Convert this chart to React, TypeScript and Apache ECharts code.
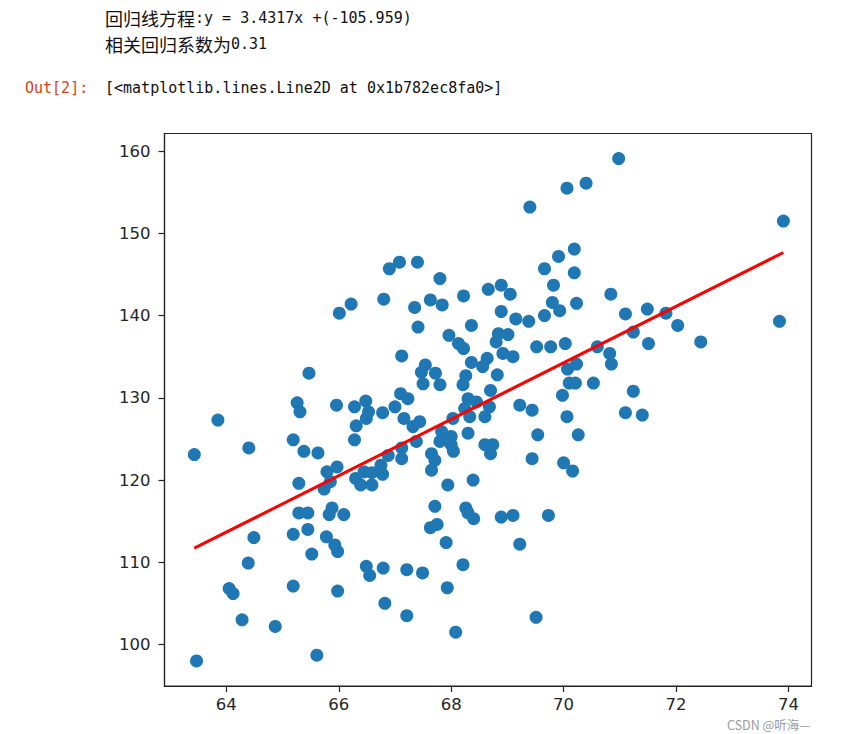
import React, { useEffect, useRef } from "react";
import * as echarts from "echarts";

// Heights (x) and weights (y)
const heights = [
  70.40, 70.06, 69.40, 70.19, 69.91, 69.66, 70.19, 69.82, 70.23, 69.80,
  69.93, 69.66, 69.38, 69.15, 68.89, 69.05, 68.89, 68.66, 68.22, 67.80,
  67.40, 67.08, 66.90, 66.80, 67.35, 67.63, 67.84, 68.36, 66.22, 66.01,
  70.98, 73.91, 70.84, 71.10, 71.49, 71.82, 73.84, 72.03, 65.47, 63.85,
  63.43, 64.40, 65.26, 65.31, 65.96, 66.28, 66.48, 66.53, 66.49, 66.31,
  66.28, 65.19, 65.38, 65.63, 65.79, 65.97, 65.29, 65.74, 65.85, 66.30,
  66.45, 66.59, 66.59, 66.39, 66.75, 67.41, 67.96, 68.13, 68.22, 68.84,
  69.01, 68.80, 69.52, 69.77, 70.03, 67.12, 68.92, 69.10, 68.36, 68.64,
  68.56, 67.54, 67.47, 67.72, 67.50, 67.80, 68.26, 68.21, 68.82, 68.70,
  70.07, 70.23, 70.10, 70.21, 69.98, 70.53, 67.10, 67.23, 67.00, 66.78,
  67.16, 67.44, 67.32, 68.30, 68.45, 68.24, 68.33, 68.03, 68.68, 68.60,
  69.22, 69.44, 70.06, 68.30, 67.83, 67.80, 68.00, 68.00, 68.04, 67.38,
  67.12, 67.12, 66.88, 66.78, 67.65, 67.71, 67.65, 68.60, 68.74, 68.70,
  69.54, 70.26, 69.44, 70.00, 70.16, 67.94, 68.39, 71.24, 71.51, 72.44,
  70.60, 70.82, 70.85, 71.24, 71.10, 71.40, 65.29, 65.45, 65.88, 65.83,
  66.09, 64.49, 65.19, 65.45, 65.78, 65.93, 65.98, 65.52, 64.39, 66.49,
  66.55, 64.05, 64.12, 65.19, 65.98, 64.28, 64.87, 65.61, 63.47, 67.71,
  68.26, 68.30, 68.40, 68.89, 69.10, 69.73, 67.63, 67.75, 67.91, 69.22,
  68.21, 66.79, 67.21, 67.49, 67.93, 66.82, 67.21, 69.51, 68.08,
];

const weights = [
  156.1, 155.5, 153.2, 148.1, 147.2, 145.7, 145.2, 143.7, 141.5, 141.6,
  140.6, 140.0, 139.3, 139.6, 140.5, 142.6, 143.7, 143.2, 142.4, 144.5,
  146.5, 146.5, 145.7, 142.0, 141.0, 141.9, 141.3, 138.8, 141.4, 140.3,
  159.1, 151.5, 142.6, 140.2, 140.8, 140.3, 139.3, 138.8, 133.0, 127.3,
  123.1, 123.9, 129.4, 128.3, 129.1, 128.9, 129.6, 128.3, 127.5, 126.6,
  124.9, 124.9, 123.5, 123.3, 121.0, 121.6, 119.6, 118.9, 119.8, 120.2,
  121.0, 120.9, 119.4, 119.4, 121.8, 138.6, 137.6, 136.6, 136.0, 137.8,
  137.7, 136.8, 136.2, 136.2, 136.6, 135.1, 135.4, 135.0, 134.3, 134.8,
  133.8, 134.0, 133.1, 133.0, 131.7, 131.6, 132.7, 131.6, 132.8, 130.9,
  133.5, 134.1, 131.8, 131.8, 130.3, 131.8, 130.5, 129.9, 128.9, 128.2,
  127.5, 127.1, 126.5, 129.9, 129.5, 128.7, 127.7, 127.5, 128.9, 127.7,
  129.1, 128.5, 127.7, 125.7, 125.9, 124.7, 125.3, 124.3, 123.5, 124.7,
  123.9, 122.6, 123.0, 120.7, 123.2, 122.4, 121.2, 124.3, 124.3, 123.2,
  125.5, 125.5, 122.6, 122.1, 121.1, 119.4, 120.0, 138.0, 136.6, 136.8,
  136.2, 135.4, 134.1, 130.8, 128.2, 127.9, 116.0, 116.0, 116.6, 115.8,
  115.8, 113.0, 113.4, 114.0, 113.1, 112.1, 111.3, 111.0, 109.9, 109.5,
  108.4, 106.8, 106.2, 107.1, 106.5, 103.0, 102.2, 98.7, 98.0, 116.8,
  116.6, 116.0, 115.3, 115.5, 115.7, 115.7, 114.2, 114.6, 112.4, 112.2,
  109.7, 109.3, 109.1, 108.7, 106.9, 105.0, 103.5, 103.3, 101.5,
];

const xTicks = [64, 66, 68, 70, 72, 74];
const yTicks = [100, 110, 120, 130, 140, 150, 160];

// Regression line as printed in the notebook output
const slope = 3.4317;
const intercept = -105.959;

const headerLine1 = "{c|回归线方程}:y = 3.4317x +(-105.959)";
const headerLine2 = "{c|相关回归系数为}0.31";
const outPrompt = "Out[2]:";
const outText = "[<matplotlib.lines.Line2D at 0x1b782ec8fa0>]";
const watermark = "CSDN @听海—";

export default function App() {
  const ref = useRef<HTMLDivElement>(null);

  useEffect(() => {
    document.body.style.margin = "0";
    const chart = echarts.init(ref.current!, null, { renderer: "svg" });
    const points = heights.map((h, i) => [h, weights[i]]);
    const xMin = Math.min(...heights);
    const xMax = Math.max(...heights);
    const fit = [
      [xMin, slope * xMin + intercept],
      [xMax, slope * xMax + intercept],
    ];
    const mono = '"DejaVu Sans Mono", "Liberation Mono", monospace';
    const cjkRich = {
      c: { fontSize: 18, fontFamily: '"Noto Sans CJK SC"', fill: "#111", lineHeight: 22 },
    };
    const axisColor = "#222";
    const labelStyle = {
      fontSize: 16.5,
      color: "#262626",
      fontFamily: '"DejaVu Sans"',
    };

    chart.setOption({
      animation: false,
      grid: {
        left: 164.5,
        top: 133.5,
        width: 647,
        height: 552.5,
        show: true,
        borderColor: axisColor,
        borderWidth: 1.2,
        backgroundColor: "transparent",
      },
      xAxis: {
        type: "value",
        min: 62.9,
        max: 74.41,
        splitLine: { show: false },
        axisLine: { show: true, lineStyle: { color: axisColor, width: 1.2 } },
        axisTick: {
          show: true,
          customValues: xTicks,
          length: 6,
          lineStyle: { color: axisColor, width: 1.2 },
        },
        axisLabel: { ...labelStyle, customValues: xTicks, margin: 10 },
      },
      yAxis: {
        type: "value",
        min: 94.95,
        max: 162.15,
        splitLine: { show: false },
        axisLine: { show: true, lineStyle: { color: axisColor, width: 1.2 } },
        axisTick: {
          show: true,
          customValues: yTicks,
          length: 6,
          lineStyle: { color: axisColor, width: 1.2 },
        },
        axisLabel: { ...labelStyle, customValues: yTicks, margin: 14 },
      },
      series: [
        {
          type: "scatter",
          data: points,
          symbol: "circle",
          symbolSize: 13,
          itemStyle: { color: "#1f77b4", opacity: 1 },
          z: 2,
        },
        {
          type: "line",
          data: fit,
          showSymbol: false,
          lineStyle: { color: "#ff0000", width: 3 },
          z: 3,
        },
      ],
      graphic: [
        {
          type: "text",
          x: 105,
          y: 18,
          style: {
            text: headerLine1,
            font: `15px ${mono}`,
            fill: "#111",
            verticalAlign: "middle",
            lineHeight: 22,
            rich: cjkRich,
          },
        },
        {
          type: "text",
          x: 105,
          y: 44,
          style: {
            text: headerLine2,
            font: `15px ${mono}`,
            fill: "#111",
            verticalAlign: "middle",
            lineHeight: 22,
            rich: cjkRich,
          },
        },
        {
          type: "text",
          x: 25,
          y: 88,
          style: {
            text: outPrompt,
            font: `15px ${mono}`,
            fill: "#D84315",
            verticalAlign: "middle",
          },
        },
        {
          type: "text",
          x: 105,
          y: 88,
          style: {
            text: outText,
            font: `15px ${mono}`,
            fill: "#111",
            verticalAlign: "middle",
          },
        },
        {
          type: "text",
          x: 727,
          y: 724,
          style: {
            text: watermark,
            font: '12.5px "Noto Sans CJK SC", sans-serif',
            fill: "#9a9a9a",
            verticalAlign: "middle",
          },
        },
      ],
    });
    return () => chart.dispose();
  }, []);

  return <div ref={ref} style={{ width: 843, height: 734 }} />;
}
